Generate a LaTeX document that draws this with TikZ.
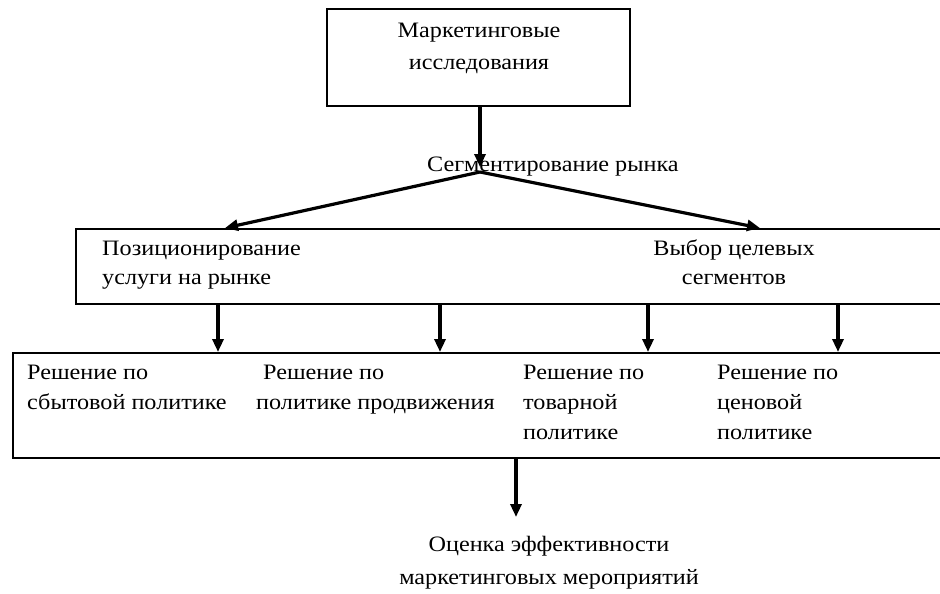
\documentclass[tikz,border=0pt]{standalone}
\usepackage{fontspec}
\setmainfont{Liberation Serif}[FakeStretch=1.1]
\usetikzlibrary{arrows.meta}

\tikzset{
	box/.style={draw=black, line width=1.5pt, inner sep=0pt},
	txt/.style={inner sep=0pt, font=\fontsize{22}{30}\selectfont},
	arr/.style={-{Triangle[length=13pt,width=11pt]}, line width=3.2pt},
}

\begin{document}
\begin{tikzpicture}[x=1pt, y=-1pt]
		\useasboundingbox (0,0) rectangle (940,594);
		\clip (0,0) rectangle (940,594);

		% Boxes (the two wide ones run off the right edge)
		\node [box, minimum width=303pt, minimum height=97pt] (research) at (478.5,57.5) {};
		\node [box, anchor=north west, minimum width=900pt, minimum height=75pt] (market) at (75,228) {};
		\node [box, anchor=north west, minimum width=960pt, minimum height=105pt] (policy) at (12,352) {};

		% Texts
		\node [txt, align=center, anchor=north, font=\fontsize{22}{32}\selectfont] (researchtxt) at (479,23) {Маркетинговые\\исследования};
		\node [txt, anchor=base west] (segm) at (427,171) {Сегментирование рынка};
		\node [txt, align=left, anchor=north west, font=\fontsize{22}{28.5}\selectfont] (posit) at (102,241) {Позиционирование\\услуги на рынке};
		\node [txt, align=center, anchor=north, font=\fontsize{22}{28.5}\selectfont] (target) at (734,240) {Выбор целевых\\сегментов};
		\node [txt, align=left, anchor=north west] (sales) at (27,365) {Решение по\\сбытовой политике};
		\node [txt, align=left, anchor=north west] (promo) at (256,365) {\hspace{7pt}Решение по\\политике продвижения};
		\node [txt, align=left, anchor=north west] (goods) at (523,365) {Решение по\\товарной\\политике};
		\node [txt, align=left, anchor=north west] (price) at (717,365) {Решение по\\ценовой\\политике};
		\node [txt, align=center, anchor=north, font=\fontsize{22}{33}\selectfont] (eval) at (549,536) {Оценка эффективности\\маркетинговых мероприятий};

		% Arrows
		\coordinate (apex) at (480,172);
		\coordinate (positin) at (225,228);
		\coordinate (targetin) at (760,228);
		\draw [arr] (research.south -| apex) -- ([yshift=5pt]apex);
		\draw [arr] (apex) -- (positin);
		\draw [arr] (apex) -- (targetin);

		\foreach \x [count=\i] in {218,440,648,838} {
			\coordinate (drop\i) at (\x,0);
			\draw [arr] (market.south -| drop\i) -- (policy.north -| drop\i);
		}

		\coordinate (evalin) at (516,517);
		\draw [arr] (policy.south -| evalin) -- (evalin);

\end{tikzpicture}
\end{document}
